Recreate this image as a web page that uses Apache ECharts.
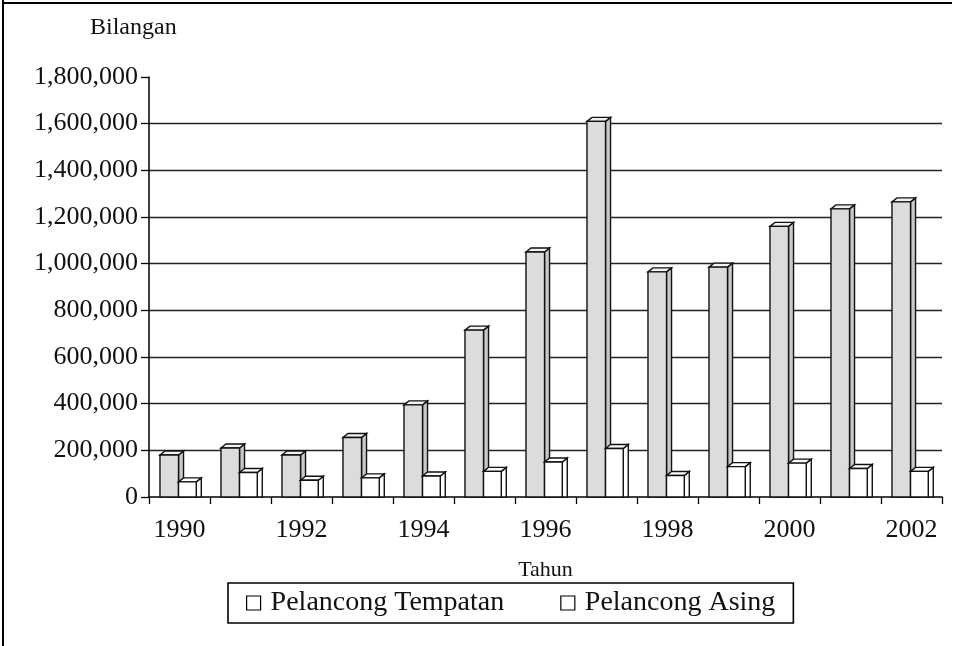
<!DOCTYPE html>
<html><head><meta charset="utf-8">
<script src="https://cdn.jsdelivr.net/npm/echarts@6/dist/echarts.min.js"></script>
<style>html,body{margin:0;padding:0;background:#fff}#c{width:965px;height:646px}</style>
</head><body><div id="c"></div>
<script>
const years = ['1990','1991','1992','1993','1994','1995','1996','1997','1998','1999','2000','2001','2002'];
const tempatan = [180000, 210000, 180000, 255000, 395000, 715000, 1050000, 1610000, 965000, 985000, 1160000, 1235000, 1265000];
const asing = [65000, 105000, 72000, 82000, 90000, 110000, 150000, 208000, 92000, 130000, 145000, 122000, 110000];
const seriesNames = ['Pelancong Tempatan', 'Pelancong Asing'];
const yTicks = { min: 0, max: 1800000, interval: 200000 };

const FONT = '"Liberation Serif", "Times New Roman", serif';

function bar3D(x0Frac, x1Frac, frontFill, topFill, sideFill) {
  return function (params, api) {
    const i = api.value(0), v = api.value(1);
    const top = api.coord([i, v]);
    const base = api.coord([i, 0]);
    const w = api.size([1, 0])[0];
    const xl = top[0] + x0Frac * w, xr = top[0] + x1Frac * w;
    const yt = top[1], yb = base[1];
    const dx = 5, dy = 4;
    const st = { stroke: '#111', lineWidth: 1.4 };
    return {
      type: 'group',
      children: [
        { type: 'polygon', shape: { points: [[xr, yt], [xr + dx, yt - dy], [xr + dx, yb], [xr, yb]] },
          style: Object.assign({ fill: sideFill }, st) },
        { type: 'polygon', shape: { points: [[xl, yt], [xl + dx, yt - dy], [xr + dx, yt - dy], [xr, yt]] },
          style: Object.assign({ fill: topFill }, st) },
        { type: 'rect', shape: { x: xl, y: yt, width: xr - xl, height: yb - yt },
          style: Object.assign({ fill: frontFill }, st) }
      ]
    };
  };
}

const chart = echarts.init(document.getElementById('c'), null, { renderer: 'canvas' });
chart.setOption({
  backgroundColor: '#fff',
  animation: false,
  grid: { left: 149, right: 23, top: 77, bottom: 149, containLabel: false },
  xAxis: {
    type: 'category',
    data: years,
    boundaryGap: true,
    name: 'Tahun',
    nameLocation: 'middle',
    nameGap: 62,
    nameTextStyle: { fontFamily: FONT, fontSize: 22, color: '#111' },
    axisLine: { show: true, lineStyle: { color: '#000', width: 1.5 } },
    axisTick: { show: true, interval: 0, length: 7, lineStyle: { color: '#000', width: 1.3 } },
    axisLabel: { interval: 1, fontFamily: FONT, fontSize: 26, color: '#111', margin: 20 },
    splitLine: { show: false }
  },
  yAxis: {
    type: 'value',
    min: yTicks.min, max: yTicks.max, interval: yTicks.interval,
    axisLine: { show: true, lineStyle: { color: '#000', width: 1.5 } },
    axisTick: { show: true, length: 8, lineStyle: { color: '#000', width: 1.3 } },
    axisLabel: {
      fontFamily: FONT, fontSize: 26, color: '#111', margin: 11,
      formatter: v => v.toLocaleString('en-US')
    },
    splitLine: { show: true, showMinLine: false, showMaxLine: false, lineStyle: { color: '#222', width: 1.3 } }
  },
  legend: {
    data: seriesNames,
    left: 228, top: 583,
    icon: 'rect', itemWidth: 14, itemHeight: 14, itemGap: 56,
    itemStyle: { color: '#fff', borderColor: '#000', borderWidth: 1.2 },
    textStyle: { fontFamily: FONT, fontSize: 28, color: '#111', padding: [0, 0, 0, 5] },
    borderColor: '#000', borderWidth: 1.6, padding: [6, 18, 6, 18], backgroundColor: '#fff'
  },
  graphic: [
    { type: 'text', left: 90, top: 16, style: { text: 'Bilangan', font: '24px ' + FONT, fill: '#111' } },
    { type: 'line', shape: { x1: 3, y1: 0, x2: 3, y2: 646 }, style: { stroke: '#000', lineWidth: 2 } },
    { type: 'line', shape: { x1: 3, y1: 3, x2: 952, y2: 3 }, style: { stroke: '#000', lineWidth: 2 } }
  ],
  series: [
    {
      name: seriesNames[0], type: 'custom',
      itemStyle: { color: '#fff', borderColor: '#000' },
      encode: { x: 0, y: 1 },
      data: tempatan.map((v, i) => [i, v]),
      renderItem: bar3D(-0.32, -0.016, '#dcdcdc', '#f2f2f2', '#c8c8c8')
    },
    {
      name: seriesNames[1], type: 'custom',
      itemStyle: { color: '#fff', borderColor: '#000' },
      encode: { x: 0, y: 1 },
      data: asing.map((v, i) => [i, v]),
      renderItem: bar3D(-0.016, 0.275, '#ffffff', '#ffffff', '#ffffff')
    }
  ]
});
</script>
</body></html>
